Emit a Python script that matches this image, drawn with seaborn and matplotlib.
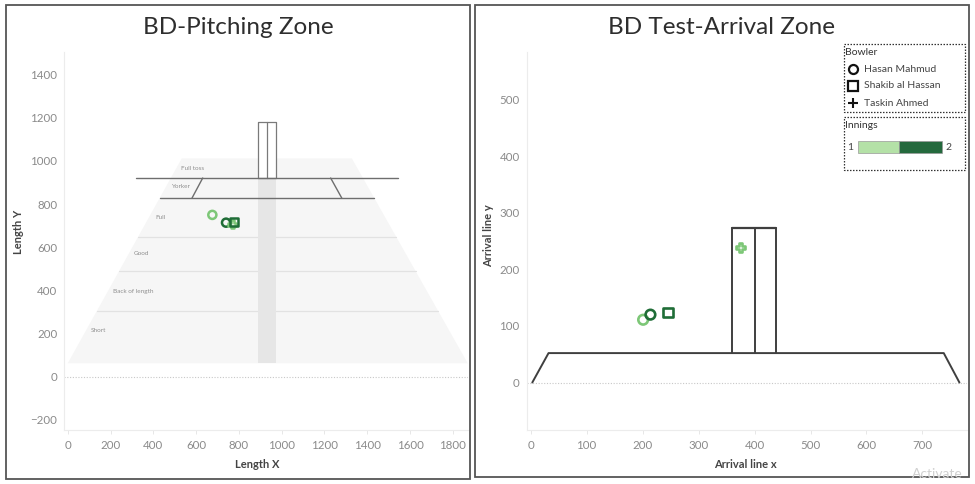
import matplotlib
matplotlib.use("Agg")
import matplotlib.pyplot as plt
import seaborn as sns
import pandas as pd
from matplotlib.patches import Rectangle

# ---------------- data ----------------
bowlers = ["Hasan Mahmud", "Hasan Mahmud", "Taskin Ahmed", "Shakib al Hassan"]
innings = [1, 2, 1, 2]
pitch_x = [676, 740, 769, 777]
pitch_y = [750, 714, 706, 719]
arrival_x = [201, 214, 375, 245]
arrival_y = [111, 120, 239, 124]

bowler_order = ["Hasan Mahmud", "Shakib al Hassan", "Taskin Ahmed"]
innings_order = [1, 2]

# pitch-map geometry (data units)
pitch_outline_x = [0, 533, 1328, 1870]
pitch_outline_y = [62, 1012, 1012, 62]
zone_line_y = [305, 490, 647]
zone_names = ["Short", "Back of length", "Good", "Full", "Yorker", "Full toss"]
zone_label_x = [107, 213, 307, 411, 483, 528]
zone_label_y = [212, 396, 569, 739, 881, 963]
crease_y = 921
crease_x = [320, 1543]
yorker_y = 828
yorker_x = [433, 1432]
yorker_diag_left_x = [631, 581]
yorker_diag_right_x = [1229, 1281]
stump_strip_x = [890, 975]
stump_top_y = 1180
stump_mid_x = 932

# arrival geometry (data units)
base_x = [3, 32, 738, 766]
base_y = [0, 52, 52, 0]
arr_stump_x = [360, 400, 438]
arr_stump_bottom = 52
arr_stump_top = 273

pitch_xticks = list(range(0, 1801, 200))
pitch_yticks = list(range(-200, 1401, 200))
arr_xticks = list(range(0, 701, 100))
arr_yticks = list(range(0, 501, 100))

# ---------------- style ----------------
sns.set_theme(style="white")
plt.rcParams["font.family"] = ["Lato", "DejaVu Sans"]

W, H = 975, 484
fig = plt.figure(figsize=(W / 100, H / 100), dpi=100)


def box(x0, y0, x1, y1):
    return [x0 / W, 1 - y1 / H, (x1 - x0) / W, (y1 - y0) / H]


light_mk = "#7dc777"
dark_mk = "#1f6d37"
palette = {1: light_mk, 2: dark_mk}
marker_map = {"Hasan Mahmud": "o", "Shakib al Hassan": "s", "Taskin Ahmed": "P"}
tick_col = "#8a8a8a"
label_col = "#444444"
axis_col = "#ececec"


def style_axes(ax):
    for s in ["top", "right"]:
        ax.spines[s].set_visible(False)
    for s in ["left", "bottom"]:
        ax.spines[s].set_color(axis_col)
        ax.spines[s].set_linewidth(0.8)
    ax.tick_params(axis="x", length=3, width=0.6, color="#e3e3e3",
                   labelcolor=tick_col, labelsize=8.3, pad=4, bottom=True)
    ax.tick_params(axis="y", length=0, labelcolor=tick_col, labelsize=8.3, pad=5, left=True)
    ax.set_xlabel("")
    ax.set_ylabel("")
    ax.grid(False)
    ax.axhline(0, color="#c8c8c8", lw=0.8, ls=(0, (1, 1.5)), zorder=1)


def hollow_scatter(ax, df, s, lw):
    sns.scatterplot(data=df, x="x", y="y", hue="Innings", style="Bowler",
                    hue_order=innings_order, style_order=bowler_order,
                    palette=palette, markers=marker_map, s=s, linewidth=0,
                    legend=False, ax=ax, zorder=5)
    coll = ax.collections[-1]
    fc = coll.get_facecolors()
    coll.set_facecolors("none")
    coll.set_edgecolors(fc)
    coll.set_linewidths(lw)


# ---------------- panel borders ----------------
for (x0, y0, x1, y1) in [(5.5, 5, 469.5, 479), (475, 5, 969, 477)]:
    fig.patches.append(Rectangle((x0 / W, 1 - y1 / H), (x1 - x0) / W, (y1 - y0) / H,
                                 transform=fig.transFigure, fill=False,
                                 edgecolor="#555555", lw=1.3))

fig.text(238 / W, 1 - 27 / H, "BD-Pitching Zone", ha="center", va="center",
         fontsize=17.5, color="#2e2e2e")
fig.text(721 / W, 1 - 27 / H, "BD Test-Arrival Zone", ha="center", va="center",
         fontsize=17.5, color="#2e2e2e")

# ---------------- left: pitching zone ----------------
ax1 = fig.add_axes(box(64.3, 52, 468, 430))
ax1.set_facecolor("none")
ax1.fill(pitch_outline_x, pitch_outline_y, color="#f6f6f6", lw=0, zorder=0)
lx0, ly0 = pitch_outline_x[0], pitch_outline_y[0]
lx1, ly1 = pitch_outline_x[1], pitch_outline_y[1]
rx0, rx1 = pitch_outline_x[3], pitch_outline_x[2]
for zy in zone_line_y:
    t = (zy - ly0) / (ly1 - ly0)
    xl = lx0 + t * (lx1 - lx0)
    xr = rx0 + t * (rx1 - rx0)
    ax1.plot([xl, xr], [zy, zy], color="#e2e2e2", lw=0.9, zorder=1)
ax1.fill_between(stump_strip_x, [pitch_outline_y[0]] * 2, [crease_y] * 2,
                 color="#e6e6e6", lw=0, zorder=1)
ax1.fill_between(stump_strip_x, [crease_y] * 2, [stump_top_y] * 2,
                 facecolor="white", edgecolor="#7a7a7a", lw=0.9, zorder=2)
ax1.plot([stump_mid_x, stump_mid_x], [crease_y, stump_top_y], color="#7a7a7a", lw=0.9, zorder=2)
ax1.plot(crease_x, [crease_y] * 2, color="#6e6e6e", lw=1.0, zorder=3)
ax1.plot(yorker_x, [yorker_y] * 2, color="#6e6e6e", lw=1.0, zorder=3)
ax1.plot(yorker_diag_left_x, [crease_y, yorker_y], color="#6e6e6e", lw=1.0, zorder=3)
ax1.plot(yorker_diag_right_x, [crease_y, yorker_y], color="#6e6e6e", lw=1.0, zorder=3)
for name, zx, zy in zip(zone_names, zone_label_x, zone_label_y):
    ax1.text(zx, zy, name, fontsize=4.6, color="#8f8f8f", ha="left", va="center", zorder=3)

df_p = pd.DataFrame({"Bowler": bowlers, "Innings": innings, "x": pitch_x, "y": pitch_y})
hollow_scatter(ax1, df_p, 34, 1.8)

ax1.set_xlim(-16, 1871)
ax1.set_ylim(-247, 1505)
ax1.set_xticks(pitch_xticks)
ax1.set_yticks(pitch_yticks)
style_axes(ax1)

fig.text(257 / W, 1 - 465 / H, "Length X", ha="center", va="center",
         fontsize=8, color=label_col, fontweight="bold")
fig.text(19 / W, 1 - 232 / H, "Length Y", ha="center", va="center",
         fontsize=8, color=label_col, fontweight="bold", rotation=90)

# ---------------- right: arrival zone ----------------
ax2 = fig.add_axes(box(526.7, 51.7, 966.7, 430))
ax2.set_facecolor("none")
ax2.plot(base_x, base_y, color="#3f3f3f", lw=1.4, zorder=2)
for sx in arr_stump_x:
    ax2.plot([sx, sx], [arr_stump_bottom, arr_stump_top], color="#3f3f3f", lw=1.4, zorder=2)
ax2.plot([arr_stump_x[0], arr_stump_x[-1]], [arr_stump_top] * 2, color="#3f3f3f", lw=1.6, zorder=2)

df_a = pd.DataFrame({"Bowler": bowlers, "Innings": innings, "x": arrival_x, "y": arrival_y})
hollow_scatter(ax2, df_a, 48, 1.9)

ax2.set_xlim(-7, 779)
ax2.set_ylim(-84, 585)
ax2.set_xticks(arr_xticks)
ax2.set_yticks(arr_yticks)
style_axes(ax2)

fig.text(745 / W, 1 - 465 / H, "Arrival line x", ha="center", va="center",
         fontsize=8, color=label_col, fontweight="bold")
fig.text(489 / W, 1 - 236 / H, "Arrival line y", ha="center", va="center",
         fontsize=8, color=label_col, fontweight="bold", rotation=90)

# ---------------- legend ----------------
axl = fig.add_axes(box(838, 38, 972, 176))
axl.set_xlim(838, 972)
axl.set_ylim(176, 38)
axl.axis("off")
for (x0, y0, x1, y1) in [(843.5, 44, 965, 112), (843.5, 117, 965, 170)]:
    axl.add_patch(Rectangle((x0, y0), x1 - x0, y1 - y0, fill=False,
                            edgecolor="#333333", lw=0.9, ls=(0, (1.2, 1.2))))
axl.text(845, 52, "Bowler", fontsize=7.5, color="#333333", ha="left", va="center")
leg_markers = ["o", "s", "+"]
leg_y = [69, 86, 103]
for b, m, ly in zip(bowler_order, leg_markers, leg_y):
    if m == "+":
        axl.plot([853], [ly], marker=m, ms=7, mew=1.5, color="#111111", ls="none")
    else:
        axl.plot([853], [ly], marker=m, ms=6.5, mew=1.6, mfc="none", mec="#111111", ls="none")
    axl.text(864, ly, b, fontsize=7.5, color="#444444", ha="left", va="center")
axl.text(845, 126, "Innings", fontsize=7.5, color="#333333", ha="left", va="center")
axl.text(850, 147, str(innings_order[0]), fontsize=7.5, color="#444444", ha="center", va="center")
axl.text(948, 147, str(innings_order[-1]), fontsize=7.5, color="#444444", ha="center", va="center")
axl.add_patch(Rectangle((858.3, 141.3), 41, 11.7, facecolor="#b4e1a7", edgecolor="#999999", lw=0.5))
axl.add_patch(Rectangle((899.3, 141.3), 42.4, 11.7, facecolor="#24693d", edgecolor="#999999", lw=0.5))

fig.text(912 / W, 1 - 474 / H, "Activate", fontsize=10, color="#d0d0d0",
         ha="left", va="center")

fig.savefig("out.png", dpi=100)
